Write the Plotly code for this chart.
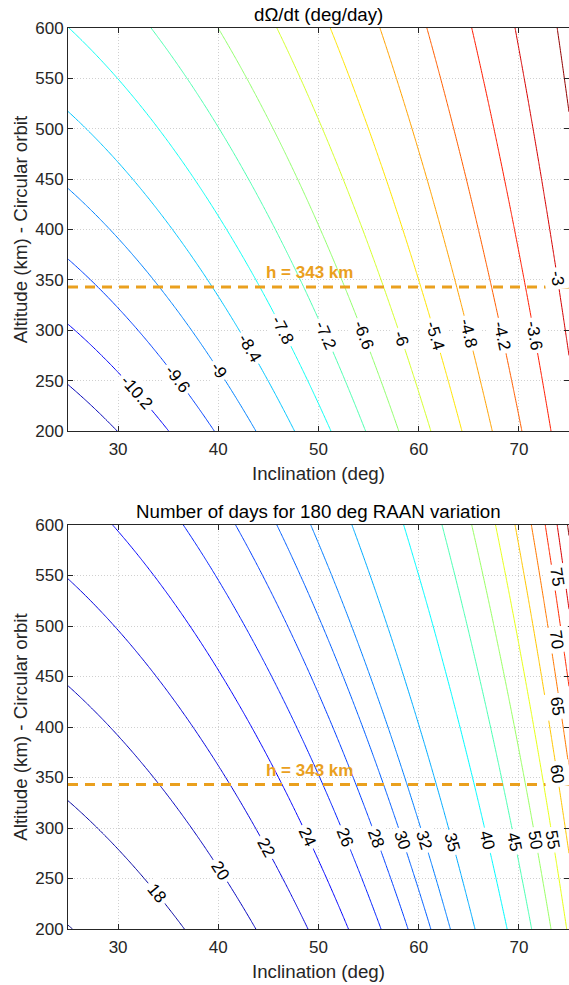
import numpy as np
import plotly.graph_objects as go

# ---------------- data ----------------
INC_RANGE = [25, 75]            # inclination (deg)
ALT_RANGE = [200, 600]          # altitude (km)
INCLINATION_DEG = np.linspace(INC_RANGE[0], INC_RANGE[1], 201)
ALTITUDE_KM = np.linspace(ALT_RANGE[0], ALT_RANGE[1], 161)

# body constants (Mars) used for the J2 nodal regression
MU_KM3_S2 = 42828.37
R_BODY_KM = 3396.2
J2 = 1.96045e-3

RATE_LEVELS = [-10.8, -10.2, -9.6, -9.0, -8.4, -7.8, -7.2, -6.6, -6.0,
               -5.4, -4.8, -4.2, -3.6, -3.0, -2.4]
DAYS_LEVELS = [16, 18, 20, 22, 24, 26, 28, 30, 32, 35, 40, 45, 50, 55,
               60, 65, 70, 75, 80]
X_TICKS = [30, 40, 50, 60, 70]
Y_TICKS = [200, 250, 300, 350, 400, 450, 500, 550, 600]
REF_ALT_KM = 343
REF_TEXT = "h = 343 km"
RAAN_SPAN_DEG = 180

TITLE_TOP = "dΩ/dt (deg/day)"
TITLE_BOTTOM = "Number of days for 180 deg RAAN variation"
XLABEL = "Inclination (deg)"
YLABEL = "Altitude (km) - Circular orbit"

# ---------------- label placement (layout, altitude of each inline label) ----
TOP_LABEL_ALT = {-10.2: 238, -9.6: 252, -9.0: 260, -8.4: 282, -7.8: 300,
                 -7.2: 295, -6.6: 295, -6.0: 292, -5.4: 295, -4.8: 297,
                 -4.2: 295, -3.6: 295, -3.0: 351}
BOT_LABEL_ALT = {18: 235, 20: 258, 22: 281, 24: 291, 26: 291, 28: 290,
                 30: 288, 32: 288, 35: 286, 40: 288, 45: 286, 50: 288,
                 55: 288, 60: 354, 65: 420, 70: 486, 75: 549}


# ---------------- fields ----------------
def k_deg_day(h_km):
    """|dOmega/dt| / cos(i) in deg/day for a circular orbit at altitude h."""
    a = R_BODY_KM + np.asarray(h_km, dtype=float)
    n = np.sqrt(MU_KM3_S2 / a**3)
    return np.degrees(1.5 * n * J2 * (R_BODY_KM / a) ** 2) * 86400.0


I, H = np.meshgrid(np.radians(INCLINATION_DEG), ALTITUDE_KM)
RATE_DEG_DAY = -k_deg_day(H) * np.cos(I)
DAYS = RAAN_SPAN_DEG / np.abs(RATE_DEG_DAY)


def inc_on_rate(level, h):
    return np.degrees(np.arccos(np.clip(-level / k_deg_day(h), -1, 1)))


def inc_on_days(level, h):
    return np.degrees(np.arccos(np.clip(RAAN_SPAN_DEG / (k_deg_day(h) * level), -1, 1)))


def jet(x):
    x = min(max(x, 0.0), 1.0)
    r = min(max(1.5 - abs(4 * x - 3), 0), 1)
    g = min(max(1.5 - abs(4 * x - 2), 0), 1)
    b = min(max(1.5 - abs(4 * x - 1), 0), 1)
    return "rgb(%d,%d,%d)" % (round(r * 255), round(g * 255), round(b * 255))


FONT = "Liberation Sans, Arial, Helvetica, sans-serif"
AX_COLOR = "#262626"
ORANGE = "rgb(234,160,30)"

W, HGT = 569, 985
M_L, M_R, M_T, M_B = 68, 0, 28, 56
PLOT_W = W - M_L - M_R
PLOT_H_TOTAL = HGT - M_T - M_B
TOP_DOM = [498 / PLOT_H_TOTAL, 1.0]
BOT_DOM = [0.0, 404 / PLOT_H_TOTAL]
PX_PER_DEG = PLOT_W / (INC_RANGE[1] - INC_RANGE[0])
PX_PER_KM = (TOP_DOM[1] - TOP_DOM[0]) * PLOT_H_TOTAL / (ALT_RANGE[1] - ALT_RANGE[0])
LABEL_HALF_EXTENT_PX = 12

fig = go.Figure()
box_annotations = []
text_annotations = []


def add_contours(z, levels, xa, ya, label_alt, inc_fn):
    zmin, zmax = float(np.nanmin(z)), float(np.nanmax(z))
    for lv in levels:
        c = jet((lv - zmin) / (zmax - zmin))
        fig.add_trace(go.Contour(
            x=INCLINATION_DEG, y=ALTITUDE_KM, z=z,
            xaxis=xa, yaxis=ya,
            autocontour=False,
            contours=dict(start=lv, end=lv, size=1, coloring="lines",
                          showlabels=False),
            colorscale=[[0, c], [1, c]],
            line=dict(width=1),
            showscale=False, hoverinfo="skip", showlegend=False,
        ))
        if lv in label_alt:
            h0 = label_alt[lv]
            i0 = float(inc_fn(lv, h0))
            dh = 4.0
            i1 = float(inc_fn(lv, h0 - dh))
            i2 = float(inc_fn(lv, h0 + dh))
            dx = (i1 - i2) * PX_PER_DEG
            dy = 2 * dh * PX_PER_KM          # downward pixels
            ang = float(np.degrees(np.arctan2(dy, dx)))
            x_px = (i0 - INC_RANGE[0]) * PX_PER_DEG
            shift = min(0.0, (PLOT_W - LABEL_HALF_EXTENT_PX) - x_px)
            base = dict(text="%g" % lv, x=i0, y=h0, xref=xa, yref=ya,
                        xanchor="center", yanchor="middle", showarrow=False,
                        textangle=ang, xshift=shift)
            # white gap that breaks the contour line under the label
            box_annotations.append(dict(
                base, bgcolor="white", borderpad=3,
                font=dict(family=FONT, size=17, color="rgba(0,0,0,0)")))
            text_annotations.append(dict(
                base, font=dict(family=FONT, size=17, color="black")))


add_contours(RATE_DEG_DAY, RATE_LEVELS, "x", "y", TOP_LABEL_ALT, inc_on_rate)
add_contours(DAYS, DAYS_LEVELS, "x2", "y2", BOT_LABEL_ALT, inc_on_days)

for xa, ya in (("x", "y"), ("x2", "y2")):
    fig.add_trace(go.Scatter(
        x=INC_RANGE, y=[REF_ALT_KM, REF_ALT_KM], xaxis=xa, yaxis=ya,
        mode="lines", line=dict(color=ORANGE, width=3, dash="10px,7px"),
        hoverinfo="skip", showlegend=False))

other_annotations = []
for xa, ya, title in (("x", "y", TITLE_TOP), ("x2", "y2", TITLE_BOTTOM)):
    other_annotations.append(dict(
        text=title, x=0.5, y=1, xref=xa + " domain", yref=ya + " domain",
        xanchor="center", yanchor="bottom", yshift=1, showarrow=False,
        font=dict(family=FONT, size=18.7, color="black")))
    other_annotations.append(dict(
        text="<b>%s</b>" % REF_TEXT, x=44.6, y=REF_ALT_KM, xref=xa, yref=ya,
        xanchor="left", yanchor="bottom", yshift=3, showarrow=False,
        font=dict(family=FONT, size=17, color=ORANGE)))

axis_common = dict(
    showline=True, linecolor=AX_COLOR, linewidth=1, mirror="ticks",
    ticks="inside", ticklen=5, tickcolor=AX_COLOR, tickwidth=1,
    showgrid=True, gridcolor="#d0d0d0", griddash="1px,2px", gridwidth=1,
    zeroline=False, automargin=False,
    tickfont=dict(family=FONT, size=17, color=AX_COLOR),
)
title_font = dict(family=FONT, size=18.7, color=AX_COLOR)

fig.update_layout(
    width=W, height=HGT,
    margin=dict(l=M_L, r=M_R, t=M_T, b=M_B),
    paper_bgcolor="white", plot_bgcolor="white",
    font=dict(family=FONT, color=AX_COLOR),
    annotations=box_annotations + text_annotations + other_annotations,
    xaxis=dict(axis_common, range=INC_RANGE, tickvals=X_TICKS, anchor="y",
               ticklabelstandoff=3,
               title=dict(text=XLABEL, standoff=8, font=title_font)),
    yaxis=dict(axis_common, range=ALT_RANGE, tickvals=Y_TICKS, anchor="x",
               domain=TOP_DOM,
               title=dict(text=YLABEL, standoff=2, font=title_font)),
    xaxis2=dict(axis_common, range=INC_RANGE, tickvals=X_TICKS, anchor="y2",
                ticklabelstandoff=3,
                title=dict(text=XLABEL, standoff=8, font=title_font)),
    yaxis2=dict(axis_common, range=ALT_RANGE, tickvals=Y_TICKS, anchor="x2",
                domain=BOT_DOM,
                title=dict(text=YLABEL, standoff=2, font=title_font)),
)

fig.write_html(
    "out.html",
    config={"displayModeBar": False},
    post_script="document.body.style.margin='0';document.body.style.overflow='hidden';",
)
